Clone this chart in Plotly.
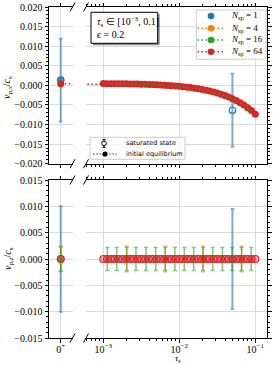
import plotly.graph_objects as go

# ---------------- data ----------------
TAU_ZERO = 1e-6          # stands in for tau_s = 0+ (left broken-axis panel)

# initial equilibria, N_sp = 64 (dense tau grid)
tau_eq_64 = [TAU_ZERO,
             0.00100, 0.00112, 0.00126, 0.00141, 0.00158, 0.00178, 0.00200, 0.00224,
             0.00251, 0.00282, 0.00316, 0.00355, 0.00398, 0.00447, 0.00501, 0.00562,
             0.00631, 0.00708, 0.00794, 0.00891, 0.0100, 0.0112, 0.0126, 0.0141,
             0.0158, 0.0178, 0.0200, 0.0224, 0.0251, 0.0282, 0.0316, 0.0355,
             0.0398, 0.0447, 0.0501, 0.0562, 0.0631, 0.0708, 0.0794, 0.0891, 0.1000]
vx_eq_64 = [0.00040,
            0.00045, 0.00044, 0.00043, 0.00042, 0.00041, 0.00040, 0.00038, 0.00037,
            0.00035, 0.00033, 0.00030, 0.00027, 0.00024, 0.00020, 0.00016, 0.00011,
            0.00005, -0.00001, -0.00008, -0.00016, -0.00025, -0.00035, -0.00046, -0.00058,
            -0.00072, -0.00088, -0.00105, -0.00124, -0.00145, -0.00169, -0.00196, -0.00226,
            -0.00260, -0.00298, -0.00340, -0.00388, -0.00442, -0.00502, -0.00570, -0.00645, -0.00735]
vz_sat_64 = [0.0,
             0.0, 0.0, 0.0, 0.0, 0.0, 0.0, 0.0, 0.0, 0.0, 0.0, 0.0, 0.0, 0.0, 0.0,
             0.0, 0.0, 0.0, 0.0, 0.0, 0.0, 0.0, 0.0, 0.0, 0.0, 0.0, 0.0, 0.0, 0.0,
             0.0, 0.0, 0.0, 0.0, 0.0, 0.0, 0.0, 0.0, 0.0, 0.0, 0.0, 0.0, 0.0]

# N_sp = 16
tau_16 = [TAU_ZERO, 0.00113, 0.00150, 0.00203, 0.00269, 0.00365, 0.00489, 0.00653, 0.00875,
          0.01164, 0.01545, 0.02051, 0.02754, 0.03698, 0.04954, 0.06592, 0.08825]
vx_eq_16 = [0.00040, 0.00044, 0.00041, 0.00038, 0.00034, 0.00027, 0.00017, 0.00003, -0.00015,
            -0.00038, -0.00069, -0.00109, -0.00165, -0.00240, -0.00336, -0.00468, -0.00645]
vz_sat_16 = [0.0, 0.0, 0.0, 0.0, 0.0, 0.0, 0.0, 0.0, 0.0,
             0.0, 0.0, 0.0, 0.0, 0.0, 0.0, 0.0, 0.0]
vz_err_16 = [0.0023, 0.0022, 0.0022, 0.0022, 0.0022, 0.0022, 0.0022, 0.0022, 0.0022,
             0.0022, 0.0022, 0.0022, 0.0022, 0.0022, 0.0022, 0.0022, 0.0022]

# N_sp = 4
tau_4 = [TAU_ZERO, 0.00203, 0.00653, 0.02051, 0.06592]
vz_sat_4 = [0.0, 0.0, 0.0, 0.0, 0.0]
vz_err_4 = [0.0024, 0.0024, 0.0024, 0.0024, 0.0024]

# N_sp = 1 (saturated states)
tau_1 = [TAU_ZERO, 0.0500]
vx_sat_1 = [0.00135, -0.00635]
vx_err_1 = [0.01055, 0.00930]
vz_sat_1 = [0.0, 0.0]
vz_err_1 = [0.0100, 0.0095]

legend_labels = ["1", "4", "16", "64"]
x_tick_vals = [1e-3, 1e-2, 1e-1]
x_tick_text = ["10<sup>−3</sup>", "10<sup>−2</sup>", "10<sup>−1</sup>"]
zero_tick_text = ["0<sup>+</sup>"]

BLUE, ORANGE, GREEN, RED = "#1f77b4", "#ff7f0e", "#2ca02c", "#d62728"
SERIF = "Liberation Serif"
SANS = "DejaVu Sans"

# ---------------- geometry ----------------
W, H = 274, 365
ML, MR, MT, MB = 49, 7, 7, 27
PW, PH = W - ML - MR, H - MT - MB


def px(x):
    return (x - ML) / PW


def py(y):
    return (MT + PH - y) / PH


fig = go.Figure()


def add_row(row, **kw):
    pairs = [("x", "y"), ("x2", "y2")] if row == "top" else [("x3", "y3"), ("x4", "y4")]
    for xa, ya in pairs:
        fig.add_trace(go.Scatter(xaxis=xa, yaxis=ya, showlegend=False, hoverinfo="skip", **kw))


DOT = "1.5px,2.5px"

# ---- top row: v_px ----
add_row("top", x=tau_1, y=vx_sat_1, mode="markers",
        marker=dict(size=6.5, symbol=["circle", "circle-open"],
                    color=["rgba(31,119,180,0.75)", BLUE], line=dict(width=1.2, color=BLUE)),
        error_y=dict(type="data", array=vx_err_1, color="rgba(31,119,180,0.6)",
                     thickness=2, width=1.8))
add_row("top", x=tau_eq_64, y=vx_eq_64, mode="lines+markers",
        line=dict(color=RED, dash=DOT, width=1.5),
        marker=dict(size=7, color=RED))
add_row("top", x=tau_16[1:], y=vx_eq_16[1:], mode="lines",
        line=dict(color=GREEN, dash=DOT, width=1.5))

# ---- bottom row: v_pz ----
add_row("bottom", x=tau_1, y=vz_sat_1, mode="markers",
        marker=dict(size=6, symbol="circle-open", color=BLUE),
        error_y=dict(type="data", array=vz_err_1, color="rgba(31,119,180,0.6)",
                     thickness=2, width=1.8))
add_row("bottom", x=tau_4, y=vz_sat_4, mode="markers",
        marker=dict(size=6, color="rgba(255,127,14,0.8)"),
        error_y=dict(type="data", array=vz_err_4, color="rgba(255,127,14,0.6)",
                     thickness=1.5, width=2))
add_row("bottom", x=tau_16, y=vz_sat_16, mode="markers",
        marker=dict(size=5, color="rgba(44,160,44,0.6)"),
        error_y=dict(type="data", array=vz_err_16, color="rgba(44,160,44,0.6)",
                     thickness=1.5, width=2))
add_row("bottom", x=tau_eq_64, y=vz_sat_64, mode="markers",
        marker=dict(size=7, color="rgba(214,39,40,0.35)", line=dict(color=RED, width=1.2)))

# ---------------- axes ----------------
common = dict(showline=True, linecolor="black", linewidth=1, ticks="outside",
              ticklen=3.5, tickwidth=1, tickcolor="black", zeroline=False,
              showgrid=True, gridcolor="#dadada", gridwidth=1, automargin=False,
              tickfont=dict(family=SERIF, size=10, color="black"))

left_dom = [0, px(72.5)]
right_dom = [px(86), 1]
top_dom = [py(163.7), 1]
bot_dom = [0, py(180)]

minor_x = [6e-4, 7e-4, 8e-4, 9e-4,
           2e-3, 3e-3, 4e-3, 5e-3, 6e-3, 7e-3, 8e-3, 9e-3,
           2e-2, 3e-2, 4e-2, 5e-2, 6e-2, 7e-2, 8e-2, 9e-2]

for name, anchor, dom, show in [("xaxis", "y", left_dom, False), ("xaxis3", "y3", left_dom, True)]:
    fig.layout[name] = dict(common, type="log", domain=dom, anchor=anchor,
                            range=[-6.5, -5.5], tickmode="array", tickvals=[TAU_ZERO],
                            ticktext=zero_tick_text, mirror="ticks", showticklabels=show,
                            ticklabelstandoff=-2)
for name, anchor, show in [("xaxis2", "y2", False), ("xaxis4", "y4", True)]:
    fig.layout[name] = dict(common, type="log", domain=right_dom, anchor=anchor,
                            range=[-3.228, -0.846], tickmode="array", tickvals=x_tick_vals,
                            ticktext=x_tick_text, mirror="ticks", showticklabels=show,
                            ticklabelstandoff=-2,
                            minor=dict(tickmode="array", tickvals=minor_x, ticks="outside",
                                       ticklen=2, tickcolor="black", showgrid=False))

ymin = dict(dtick=0.001, ticks="outside", ticklen=2, tickcolor="black", showgrid=False)
fig.layout["yaxis"] = dict(common, domain=top_dom, anchor="x", range=[-0.020, 0.020],
                           dtick=0.005, tick0=0, tickformat=".3f", side="left", minor=ymin)
fig.layout["yaxis2"] = dict(common, domain=top_dom, anchor="x2", range=[-0.020, 0.020],
                            dtick=0.005, tick0=0, side="right", showticklabels=False, minor=ymin)
fig.layout["yaxis3"] = dict(common, domain=bot_dom, anchor="x3", range=[-0.015, 0.015],
                            dtick=0.005, tick0=0, tickformat=".3f", side="left", minor=ymin)
fig.layout["yaxis4"] = dict(common, domain=bot_dom, anchor="x4", range=[-0.015, 0.015],
                            dtick=0.005, tick0=0, side="right", showticklabels=False, minor=ymin)

shapes = []
annos = []

# broken-axis slashes
for xr, xanc, yr in [("x", 1, "y"), ("x2", 0, "y2"), ("x3", 1, "y3"), ("x4", 0, "y4")]:
    for yanc in (0, 1):
        shapes.append(dict(type="line", xref=xr + " domain", yref=yr + " domain",
                           xsizemode="pixel", ysizemode="pixel", xanchor=xanc, yanchor=yanc,
                           x0=-2.5, x1=2.5, y0=-4.5, y1=4.5,
                           line=dict(color="black", width=1)))


def circle(cx, cy, r, fill, line_color, lw=0):
    shapes.append(dict(type="circle", xref="paper", yref="paper", xsizemode="pixel",
                       ysizemode="pixel", xanchor=px(cx), yanchor=py(cy),
                       x0=-r, x1=r, y0=-r, y1=r, fillcolor=fill,
                       line=dict(color=line_color, width=lw)))


def seg(x0, y0, x1, y1, color, width=1, dash=None):
    ln = dict(color=color, width=width)
    if dash:
        ln["dash"] = dash
    shapes.append(dict(type="line", xref="paper", yref="paper",
                       x0=px(x0), x1=px(x1), y0=py(y0), y1=py(y1), line=ln))


def rect(x0, y0, x1, y1, fill, line_color, lw=1):
    shapes.append(dict(type="rect", xref="paper", yref="paper",
                       x0=px(x0), x1=px(x1), y0=py(y0), y1=py(y1), fillcolor=fill,
                       line=dict(color=line_color, width=lw)))


def text(x, y, s, family, size, anchor="left", angle=0):
    annos.append(dict(xref="paper", yref="paper", x=px(x), y=py(y), text=s,
                      showarrow=False, xanchor=anchor, yanchor="middle", textangle=angle,
                      font=dict(family=family, size=size, color="black")))


# legend: N_sp
rect(196.3, 10, 266, 59.3, "rgba(255,255,255,0.8)", "#cccccc")
rows = [16, 28.3, 40, 51.7]
colors = [BLUE, ORANGE, GREEN, RED]
for i, (lab, c, yy) in enumerate(zip(legend_labels, colors, rows)):
    if i > 0:
        seg(197.5, yy, 224, yy, c, 1.5, DOT)
    circle(211, yy, 3.3, c, c)
    text(229, yy, "<i>N</i><sub>sp</sub> = " + lab, SERIF, 9)

# legend: parameters box with shadow
rect(93, 14.3, 159.7, 45.3, "rgba(0,0,0,0.45)", "rgba(0,0,0,0)", 0)
rect(91, 12.3, 157.7, 43.3, "white", "black", 1)
text(95, 21.7, "<i>τ</i><sub>s</sub> ∈ [10<sup>−3</sup>, 0.1]", SERIF, 10)
text(95, 35, "<i>ϵ</i> = 0.2", SERIF, 10)

# legend: marker meaning
rect(90, 137.3, 185, 159.3, "rgba(255,255,255,0.8)", "#cccccc")
seg(104, 139.3, 104, 147.3, "black", 1)
seg(102.5, 139.3, 105.5, 139.3, "black", 1)
seg(102.5, 147.3, 105.5, 147.3, "black", 1)
circle(104, 143.3, 2.3, "white", "black", 1)
text(124.3, 143.3, "saturated state", SANS, 6.5)
seg(93.3, 154, 116.7, 154, "black", 1.2, "1.2px,2px")
circle(105, 154, 2.6, "black", "black")
text(124.3, 154, "initial equilibrium", SANS, 6.5)

# axis titles
text(8, 88, "<i>v</i><sub>p,<i>x</i></sub>/<i>c</i><sub>s</sub>", SERIF, 10, "center", -90)
text(8, 259, "<i>v</i><sub>p,<i>z</i></sub>/<i>c</i><sub>s</sub>", SERIF, 10, "center", -90)
text(177.7, 358.5, "<i>τ</i><sub>s</sub>", SERIF, 9, "center")

fig.update_layout(width=W, height=H, margin=dict(l=ML, r=MR, t=MT, b=MB),
                  paper_bgcolor="white", plot_bgcolor="white", showlegend=False,
                  hovermode=False,
                  font=dict(family=SERIF, size=10, color="black"),
                  shapes=shapes, annotations=annos)

fig.write_html("out.html", config={"displayModeBar": False, "staticPlot": True},
               post_script="document.body.style.margin='0px';document.body.style.padding='0px';")
